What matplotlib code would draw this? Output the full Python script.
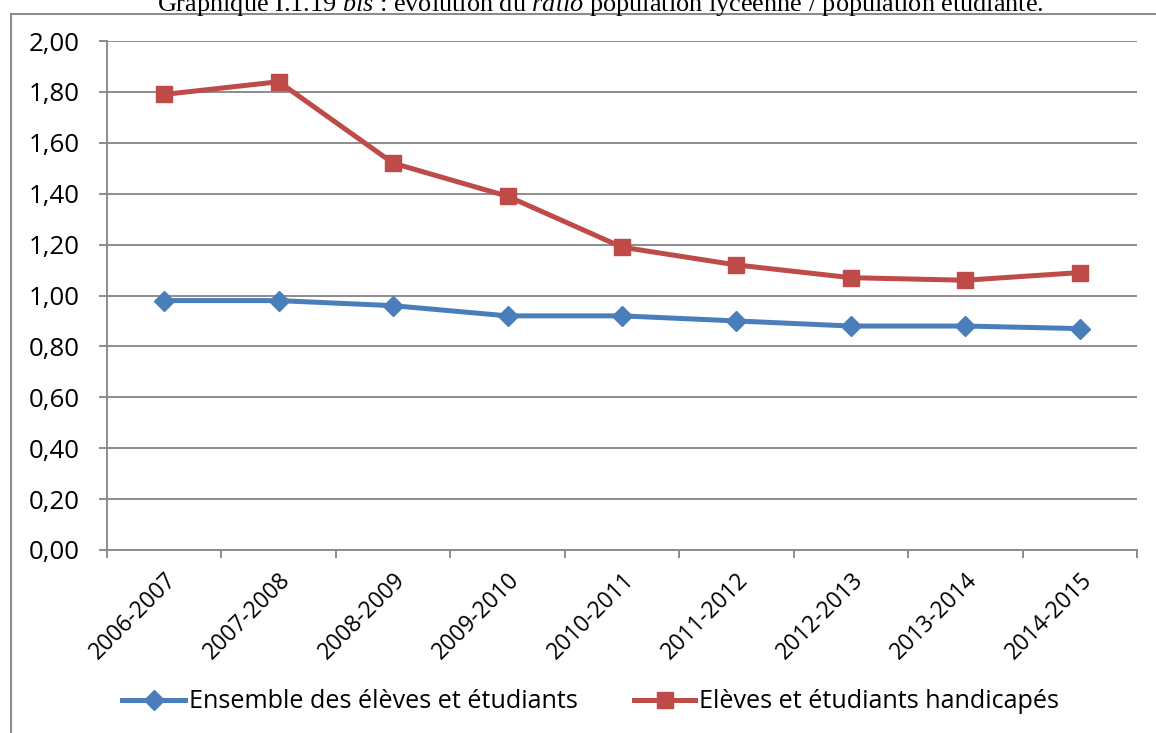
import matplotlib
matplotlib.use("Agg")
import matplotlib.pyplot as plt
from matplotlib.lines import Line2D

categories = ["2006-2007", "2007-2008", "2008-2009", "2009-2010", "2010-2011",
              "2011-2012", "2012-2013", "2013-2014", "2014-2015"]
ensemble = [0.98, 0.98, 0.96, 0.92, 0.92, 0.90, 0.88, 0.88, 0.87]
handicapes = [1.79, 1.84, 1.52, 1.39, 1.19, 1.12, 1.07, 1.06, 1.09]
yticks = [0.0, 0.2, 0.4, 0.6, 0.8, 1.0, 1.2, 1.4, 1.6, 1.8, 2.0]
series_labels = ["Ensemble des élèves et étudiants", "Elèves et étudiants handicapés"]
title = r"Graphique I.1.19 $\it{bis}$ : évolution du $\it{ratio}$ population lycéenne / population étudiante."

plt.rcParams['mathtext.fontset'] = 'custom'
plt.rcParams['mathtext.rm'] = 'Liberation Serif'
plt.rcParams['mathtext.it'] = 'Liberation Serif:italic'

W, H = 1156, 733
fig = plt.figure(figsize=(W / 100, H / 100), dpi=100)
fig.patch.set_facecolor("white")
renderer = fig.canvas.get_renderer()
SANS = "Open Sans"


def fit_size(s, family, target_px, base=20.0):
    t = fig.text(0, 0, s, fontsize=base, family=family)
    w = t.get_window_extent(renderer).width
    t.remove()
    return base * target_px / w


# outer chart frame (only left and top visible)
fig.add_artist(Line2D([11 / W, 11 / W], [0, 1 - 14 / H], transform=fig.transFigure,
                      color="#8c8c8c", lw=1.5))
fig.add_artist(Line2D([11 / W, 1], [1 - 14 / H, 1 - 14 / H], transform=fig.transFigure,
                      color="#8c8c8c", lw=1.5))

# title (partially cut at top)
tsize = fit_size(title, "Liberation Serif", 885)
fig.text(600 / W, 1 - 11 / H, title, ha="center", va="baseline", fontsize=tsize,
         family="Liberation Serif", color="black")

left, right = 107 / W, 1137 / W
bottom, top = 1 - 550 / H, 1 - 41 / H
ax = fig.add_axes([left, bottom, right - left, top - bottom])

x = list(range(len(categories)))
blue = "#4A7EBB"
red = "#BE4B48"
ax.plot(x, ensemble, color=blue, lw=3.6, marker="D", markersize=10.5,
        markeredgecolor=blue, label=series_labels[0], zorder=3)
ax.plot(x, handicapes, color=red, lw=3.6, marker="s", markersize=11.5,
        markeredgecolor=red, label=series_labels[1], zorder=3)

ax.set_xlim(-0.5, len(categories) - 0.5)
ax.set_ylim(0, 2.0)
ax.set_yticks(yticks)
ysize = fit_size("2,00", SANS, 51)
ax.set_yticklabels([f"{v:.2f}".replace(".", ",") for v in yticks],
                   fontsize=ysize, family=SANS)
ax.yaxis.grid(True, color="#8c8c8c", lw=1.4)
ax.set_axisbelow(True)

ax.set_xticks(x)
xsize = fit_size("2006-2007", SANS, 112)
ax.set_xticklabels(categories, rotation=45, ha="right", rotation_mode="anchor",
                   fontsize=xsize, family=SANS)
ax.tick_params(axis="x", length=0, pad=13)
ax.set_xticks([i - 0.5 for i in range(len(categories) + 1)], minor=True)
ax.tick_params(axis="x", which="minor", length=6, color="#8c8c8c", width=1.4)
ax.tick_params(axis="y", length=6, color="#8c8c8c", width=1.4, pad=13.5)

for s in ["top", "right"]:
    ax.spines[s].set_visible(False)
for s in ["left", "bottom"]:
    ax.spines[s].set_color("#8c8c8c")
    ax.spines[s].set_linewidth(1.4)

# legend: two entries placed where the reference shows them
lsize = fit_size(series_labels[0], SANS, 387)
lpx = lsize * 100 / 72.0
handles, labels = ax.get_legend_handles_labels()
starts = [122, 634]
hlens = [63, 61]
for h, lab, x0, hl in zip(handles, labels, starts, hlens):
    lg = fig.legend([h], [lab], loc="center left", bbox_to_anchor=(x0 / W, 1 - 702 / H),
                    frameon=False, borderpad=0, borderaxespad=0,
                    handlelength=hl / lpx, handletextpad=4 / lpx,
                    prop={"family": SANS, "size": lsize})

fig.savefig("out.png", dpi=100, facecolor="white")
